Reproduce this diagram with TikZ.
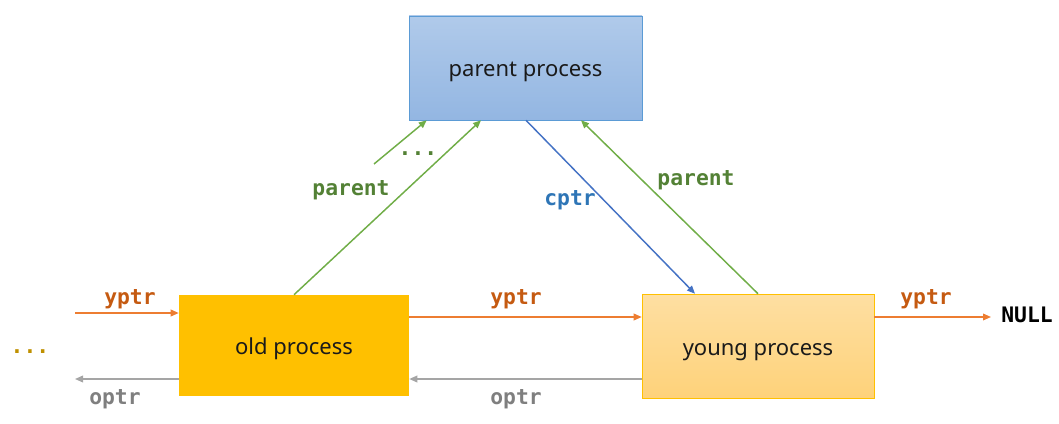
\documentclass[tikz,border=0pt]{standalone}
\usepackage{fontspec,xcolor,tikz}
\usetikzlibrary{arrows.meta,calc}
\setmainfont{Noto Sans}
\newfontfamily\codefont{DejaVu Sans Mono}
\definecolor{ink}{HTML}{1A1A1A}
\definecolor{boxblue}{HTML}{5B9BD5}
\definecolor{bluetop}{HTML}{B0CAEA}
\definecolor{bluebot}{HTML}{93B6E2}
\definecolor{gold}{HTML}{FFC000}
\definecolor{goldtop}{HTML}{FEDFA2}
\definecolor{goldbot}{HTML}{FED27A}
\definecolor{yline}{HTML}{ED7D31}
\definecolor{ytext}{HTML}{C55A11}
\definecolor{oline}{HTML}{A5A5A5}
\definecolor{otext}{HTML}{7F7F7F}
\definecolor{pline}{HTML}{70AD47}
\definecolor{ptext}{HTML}{538135}
\definecolor{cline}{HTML}{4472C4}
\definecolor{ctext}{HTML}{2E75B6}
\definecolor{dots}{HTML}{BF9000}
\newcommand{\code}{\codefont\fontsize{16}{18}\selectfont\bfseries}
\tikzset{procbox/.style={rectangle,inner sep=0,text=ink,font=\fontsize{16.5}{18}\selectfont,
    text height=15pt,text depth=1.5pt},
  tip/.style={-{Triangle[length=6pt,width=5pt]}},
  ypfeil/.style={tip,yline,line width=1.1pt},
  opfeil/.style={tip,oline,line width=1.1pt},
  pafeil/.style={tip,pline,line width=1.1pt},
  cpfeil/.style={tip,cline,line width=1.1pt},
  marke/.style={inner sep=0,font=\code}}

\begin{document}
\begin{tikzpicture}[x=0.75pt,y=0.75pt]
\useasboundingbox (0,0) rectangle (1059,-424);
% boxes
\node[procbox,draw=boxblue,top color=bluetop,bottom color=bluebot,minimum width=174.75pt,minimum height=78pt] (parent) at (525.5,-68) {parent process};
\node[procbox,fill=gold,minimum width=172.5pt,minimum height=75.75pt] (old) at (294,-345.5) {old process};
\node[procbox,draw=gold,top color=goldtop,bottom color=goldbot,minimum width=174pt,minimum height=78pt] (young) at (758,-346) {young process};
% yptr / optr chain
\coordinate (yin) at (75,-313);
\coordinate (oout) at (75,-379);
\coordinate (ym) at ($(old.east)+(0,28.5)$);
\coordinate (om) at ($(young.west)+(0,-33)$);
\coordinate (yr) at ($(young.east)+(0,29)$);
\coordinate (yend) at (991,-317);
\node[marke,text=black] (null) at (1027,-315) {NULL};
\draw[ypfeil] (yin) -- (yin -| old.west);
\draw[opfeil] (oout -| old.west) -- (oout);
\draw[ypfeil] (ym) -- (ym -| young.west);
\draw[opfeil] (om) -- (om -| old.east);
\draw[ypfeil] (yr) -- (yend);
\node[marke,text=ytext] at (130,-299) {yptr};
\node[marke,text=otext] at (115,-399) {optr};
\node[marke,text=ytext] at (516,-299) {yptr};
\node[marke,text=otext] at (516,-399) {optr};
\node[marke,text=ytext] at (926,-299) {yptr};
\node[marke,text=dots] at (30,-352) {...};
% parent / child links
\coordinate (weiter) at (374,-164);
\draw[pafeil] (old.north) -- ($(parent.south)+(-44.5,0)$);
\draw[pafeil] (weiter) -- ($(parent.south west)+(18,0)$);
\draw[cpfeil] ($(parent.south)+(0.5,0)$) -- ($(young.north)+(-63,0)$);
\draw[pafeil] (young.north) -- ($(parent.south)+(55.5,0)$);
\node[marke,text=ptext] at (351,-190) {parent};
\node[marke,text=ptext] at (418,-154) {...};
\node[marke,text=ctext] at (570,-200) {cptr};
\node[marke,text=ptext] at (696,-180) {parent};
\end{tikzpicture}
\end{document}
